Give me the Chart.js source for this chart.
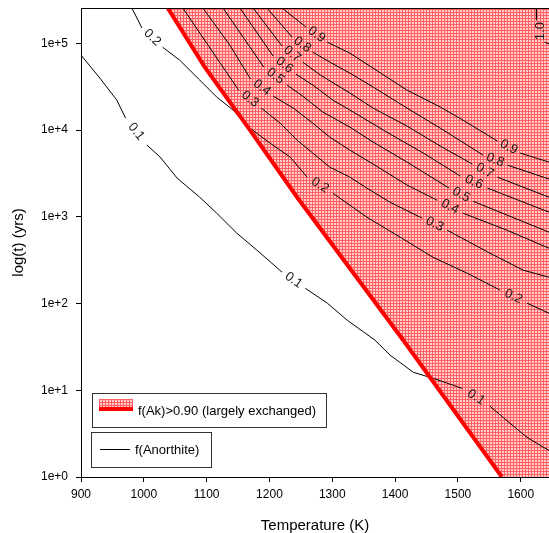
<!DOCTYPE html>
<html>
<head>
<meta charset="utf-8">
<script src="https://cdn.jsdelivr.net/npm/chart.js@4.4.1/dist/chart.umd.min.js"></script>
<style>
  html, body { margin: 0; padding: 0; background: #fff; }
</style>
</head>
<body>
<canvas id="exchange-chart" width="549" height="533"></canvas>
<script>
// axis ticks
const xTicks = [900, 1000, 1100, 1200, 1300, 1400, 1500, 1600];
const yTicks = [1, 10, 100, 1000, 10000, 100000];

// boundary of f(Ak) > 0.90, [T (K), t (yrs)]
const exchangedEdge = [[1038, 2.55e5], [1097, 5.32e4], [1169, 9.97e3], [1244, 1.68e3], [1413, 37.7], [1570, 1]];

// f(Anorthite) contours, [T (K), t (yrs)], null = gap where the label sits
const contourLevels = ['0.1', '0.2', '0.3', '0.4', '0.5', '0.6', '0.7', '0.8', '0.9', '1.0'];
const f01 = [[900, 7.3e4], [930, 3.97e4], [957, 2.21e4], [971, 1.37e4], null, [1005, 6.7e3], [1026, 4.87e3], [1053, 2.79e3], [1089, 1.68e3], [1116, 1.10e3], [1148, 647], [1180, 412], [1220, 230], null, [1257, 150], [1292, 101], [1324, 64], [1368, 37.8], [1392, 25.4], [1429, 16.1], [1461, 13.7], [1507, 10.5], null, [1551, 6.54], [1583, 4.16], [1610, 2.87], [1636, 2.20], [1645, 2.03]];
const f02 = [[981, 2.55e5], [997, 1.50e5], null, [1030, 9.0e4], [1057, 6.4e4], [1089, 3.77e4], [1116, 2.40e4], [1142, 1.70e4], [1169, 1.05e4], [1201, 7.06e3], [1233, 4.87e3], [1260, 2.86e3], null, [1301, 1.87e3], [1355, 989], [1408, 582], [1460, 342], [1515, 223], [1567, 143], null, [1610, 101], [1645, 77.3]];
const f03 = [[1062, 2.55e5], [1151, 2.88e4], null, [1187, 1.79e4], [1217, 1.20e4], [1244, 7.64e3], [1269, 5.42e3], [1296, 3.73e3], [1328, 2.86e3], [1355, 2.14e3], [1392, 1.47e3], [1443, 964], null, [1483, 700], [1551, 380], [1604, 242], [1645, 201]];
const f04 = [[1094, 2.55e5], [1137, 9.5e4], [1170, 3.86e4], null, [1206, 2.46e4], [1238, 1.79e4], [1269, 1.20e4], [1296, 8.28e3], [1328, 5.86e3], [1365, 4.05e3], [1419, 2.32e3], [1467, 1.55e3], null, [1508, 1.10e3], [1578, 700], [1645, 434]];
const f05 = [[1126, 2.55e5], [1191, 5.3e4], null, [1228, 3.30e4], [1253, 2.46e4], [1285, 1.61e4], [1328, 1.08e4], [1365, 7.26e3], [1419, 4.27e3], [1486, 2.14e3], null, [1524, 1.51e3], [1645, 664]];
const f06 = [[1153, 2.55e5], [1206, 7.1e4], null, [1242, 4.41e4], [1269, 3.30e4], [1301, 2.21e4], [1328, 1.70e4], [1392, 8.98e3], [1445, 5.42e3], [1504, 2.94e3], null, [1547, 2.14e3], [1645, 1.13e3]];
const f07 = [[1174, 2.55e5], [1220, 9.3e4], null, [1253, 6.07e4], [1281, 4.30e4], [1328, 2.67e4], [1365, 1.79e4], [1419, 1.11e4], [1472, 6.52e3], [1523, 4.05e3], null, [1563, 2.86e3], [1645, 1.68e3]];
const f08 = [[1196, 2.55e5], [1236, 1.18e5], null, [1269, 7.9e4], [1296, 6.07e4], [1328, 4.53e4], [1365, 3.13e4], [1419, 1.79e4], [1472, 1.05e4], [1540, 5.14e3], null, [1579, 3.94e3], [1645, 2.72e3]];
const f09 = [[1220, 2.55e5], [1258, 1.54e5], null, [1292, 1.03e5], [1328, 7.7e4], [1419, 2.88e4], [1472, 1.84e4], [1508, 1.30e4], [1563, 7.45e3], null, [1599, 5.42e3], [1645, 4.27e3]];
const f10 = [[1625, 2.55e5], [1625, 1.85e5], null, [1638, 1.03e5], [1645, 9.8e4]];
const contours = [f01, f02, f03, f04, f05, f06, f07, f08, f09, f10];

const legendLabels = ['f(Ak)>0.90 (largely exchanged)', 'f(Anorthite)'];

const FONT = '"Liberation Sans", Arial, sans-serif';
Chart.defaults.font.family = FONT;
Chart.defaults.color = '#000';

// red cross-hatch fill
function makeHatch() {
  const tile = document.createElement('canvas');
  tile.width = 3; tile.height = 3;
  const g = tile.getContext('2d');
  g.fillStyle = 'rgb(255,205,205)';
  g.fillRect(0, 0, 3, 3);
  g.fillStyle = 'rgb(255,95,95)';
  g.fillRect(0, 0, 3, 1);
  g.fillRect(0, 0, 1, 3);
  return g.createPattern(tile, 'repeat');
}
const hatch = makeHatch();

const toXY = p => p ? { x: p[0], y: p[1] } : { x: null, y: null };

// labels written into the gaps of the contour lines
const contourLabels = {
  id: 'contourLabels',
  afterDatasetsDraw(chart) {
    const ctx = chart.ctx, xs = chart.scales.x, ys = chart.scales.y;
    ctx.save();
    ctx.font = '13px ' + FONT;
    ctx.fillStyle = '#1a1a1a';
    ctx.textAlign = 'center';
    ctx.textBaseline = 'middle';
    contours.forEach((pts, k) => {
      pts.forEach((p, i) => {
        if (p !== null) return;
        const a = pts[i - 1], b = pts[i + 1];
        const x1 = xs.getPixelForValue(a[0]), y1 = ys.getPixelForValue(a[1]);
        const x2 = xs.getPixelForValue(b[0]), y2 = ys.getPixelForValue(b[1]);
        let ang = Math.atan2(y2 - y1, x2 - x1);
        if (ang > Math.PI / 3) ang = -Math.PI / 2;
        ctx.save();
        ctx.translate((x1 + x2) / 2, (y1 + y2) / 2);
        ctx.rotate(ang);
        ctx.fillText(contourLevels[k], 0, 0);
        ctx.restore();
      });
    });
    ctx.restore();
  }
};

// top frame line + the two legend boxes
const frameAndLegend = {
  id: 'frameAndLegend',
  afterDraw(chart) {
    const ctx = chart.ctx, area = chart.chartArea;
    ctx.save();
    ctx.strokeStyle = '#000';
    ctx.lineWidth = 1;
    ctx.beginPath();
    ctx.moveTo(area.left, area.top + 0.5);
    ctx.lineTo(area.right, area.top + 0.5);
    ctx.stroke();

    ctx.strokeStyle = '#333';
    ctx.fillStyle = '#fff';
    ctx.fillRect(92, 393, 234, 34);
    ctx.strokeRect(92.5, 393.5, 234, 34);
    ctx.fillRect(91, 432, 120, 35);
    ctx.strokeRect(91.5, 432.5, 120, 35);

    ctx.fillStyle = hatch;
    ctx.fillRect(99, 399, 34, 9);
    ctx.strokeStyle = '#ff0000';
    ctx.lineWidth = 4;
    ctx.beginPath();
    ctx.moveTo(99, 409); ctx.lineTo(133, 409);
    ctx.stroke();

    ctx.strokeStyle = '#000';
    ctx.lineWidth = 1;
    ctx.beginPath();
    ctx.moveTo(100, 449.5); ctx.lineTo(130, 449.5);
    ctx.stroke();

    ctx.fillStyle = '#000';
    ctx.font = '13px ' + FONT;
    ctx.textBaseline = 'middle';
    ctx.fillText(legendLabels[0], 138, 411);
    ctx.fillText(legendLabels[1], 135, 450);
    ctx.restore();
  }
};

const datasets = [{
  data: exchangedEdge.map(toXY),
  showLine: true, borderColor: '#ff0000', borderWidth: 4,
  pointRadius: 0, fill: false, order: 0
}];
contours.forEach(c => datasets.push({
  data: c.map(toXY),
  showLine: true, borderColor: '#000', borderWidth: 1,
  pointRadius: 0, fill: false, spanGaps: false, order: 1
}));
datasets.push({
  data: exchangedEdge.concat([[1645, 1]]).map(toXY),
  showLine: true, borderWidth: 0, borderColor: 'rgba(0,0,0,0)',
  backgroundColor: hatch, pointRadius: 0, fill: 'end', order: 5
});

new Chart(document.getElementById('exchange-chart'), {
  type: 'scatter',
  data: { datasets: datasets },
  options: {
    responsive: false,
    animation: false,
    events: [],
    layout: { padding: { top: 8, right: 0, bottom: 0, left: 0 } },
    plugins: { legend: { display: false }, tooltip: { enabled: false } },
    scales: {
      x: {
        type: 'linear', min: 900, max: 1645,
        afterBuildTicks: s => { s.ticks = xTicks.map(v => ({ value: v })); },
        afterFit: s => { s.height = 56; s.paddingLeft = 0; s.paddingRight = 0; },
        ticks: { font: { size: 12 }, color: '#000', padding: 5, maxRotation: 0, callback: v => String(v) },
        grid: { drawOnChartArea: false, drawTicks: true, tickLength: 5, color: '#000' },
        border: { display: true, color: '#000', width: 1 },
        title: { display: true, text: 'Temperature (K)', color: '#000', font: { size: 15, lineHeight: 1 }, padding: { top: 0, bottom: 0 } }
      },
      y: {
        type: 'logarithmic', min: 1, max: 2.55e5,
        afterBuildTicks: s => { s.ticks = yTicks.map(v => ({ value: v })); },
        afterFit: s => { s.width = 81; s.paddingTop = 0; s.paddingBottom = 0; },
        ticks: {
          font: { size: 12 }, color: '#000', padding: 8,
          callback: v => '1e+' + Math.round(Math.log10(v))
        },
        grid: { drawOnChartArea: false, drawTicks: true, tickLength: 5, color: '#000' },
        border: { display: true, color: '#000', width: 1 },
        title: { display: true, text: 'log(t) (yrs)', color: '#000', font: { size: 15, lineHeight: 1 }, padding: { top: 11, bottom: 0 } }
      }
    }
  },
  plugins: [contourLabels, frameAndLegend]
});
</script>
</body>
</html>
